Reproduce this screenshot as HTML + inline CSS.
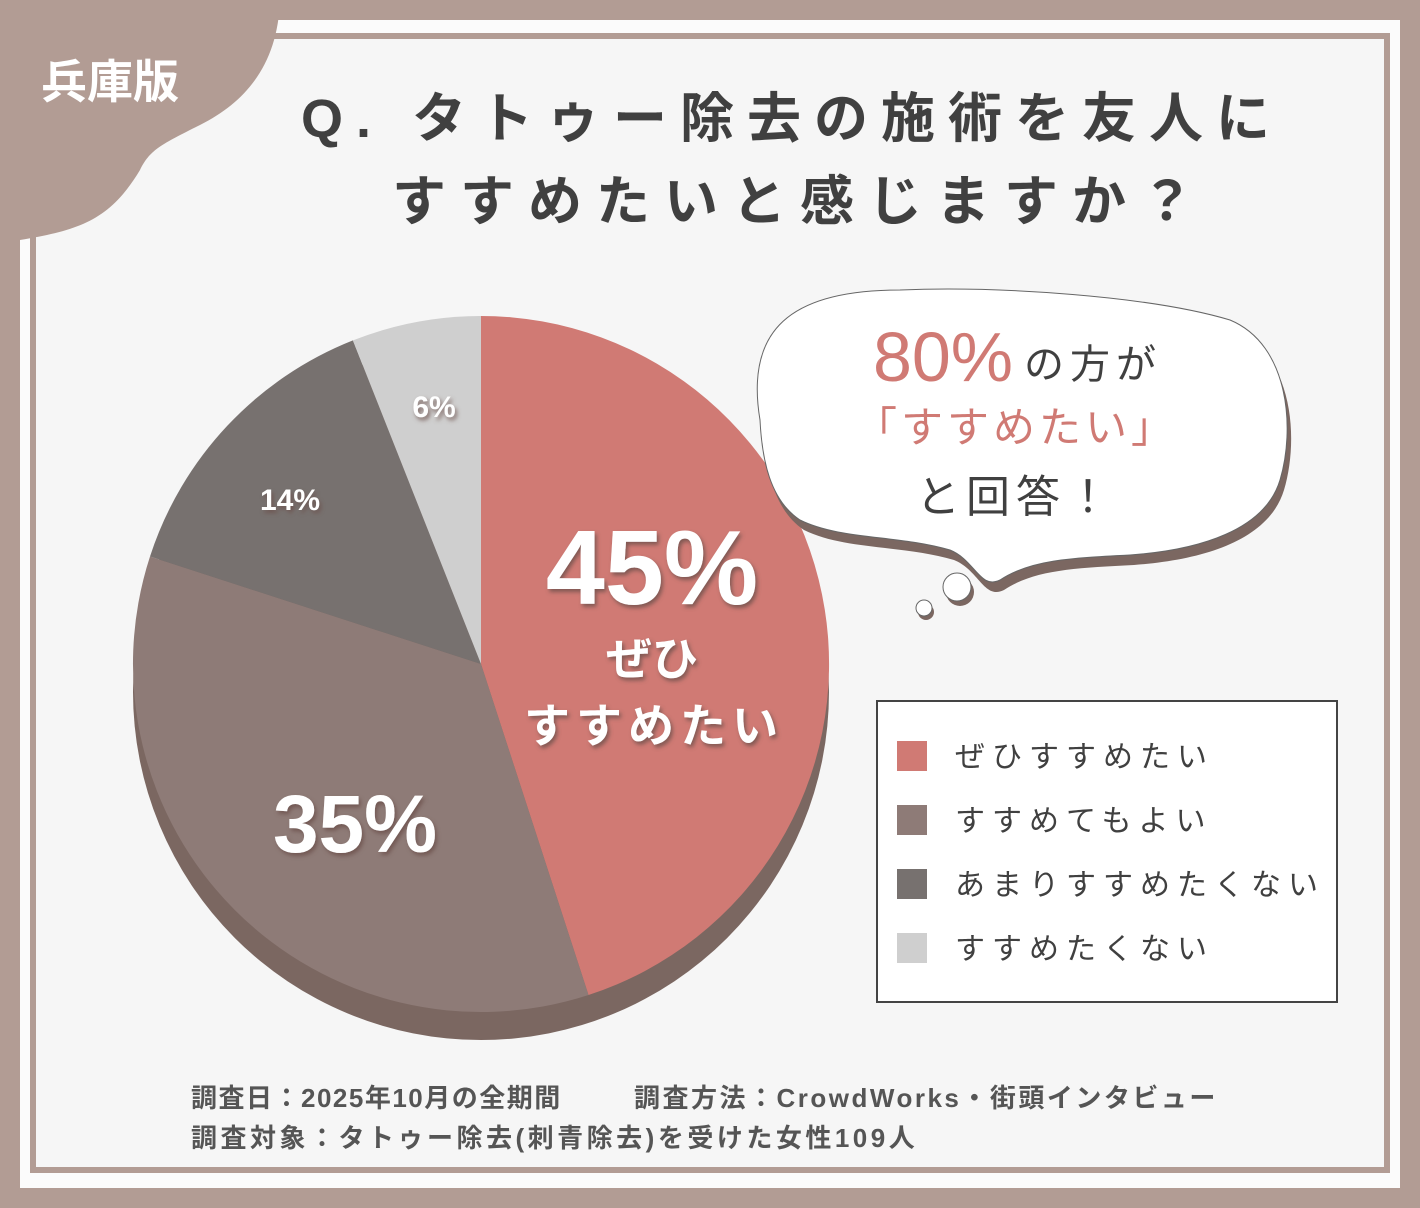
<!DOCTYPE html>
<html><head><meta charset="utf-8"><style>
html,body{margin:0;padding:0;}
body{width:1420px;height:1208px;background:#b29c94;position:relative;overflow:hidden;font-family:"Liberation Sans","Noto Sans CJK JP",sans-serif;}
svg{position:absolute;left:0;top:0;}
</style></head><body>
<svg width="1420" height="1208" viewBox="0 0 1420 1208" font-family="'Liberation Sans','Noto Sans CJK JP',sans-serif">
<defs>
<filter id="ts" x="-20%" y="-20%" width="140%" height="140%"><feDropShadow dx="2" dy="3" stdDeviation="2" flood-color="#6b4f4a" flood-opacity="0.8"/></filter>
</defs>
<rect x="20" y="20" width="1380" height="1168" fill="#fbfbfb"/>
<rect x="33" y="36" width="1354" height="1134" fill="#f6f6f6" stroke="#b29c94" stroke-width="6"/>
<path d="M0 0 H280 C278 60 250 100 200 125 C160 145 150 150 140 170 C110 220 80 230 20 240 L0 242 Z" fill="#b29c94"/>
<text x="110" y="98" font-size="46" font-weight="bold" fill="#fff" text-anchor="middle">兵庫版</text>
<text x="792" y="137" font-size="54" font-weight="bold" fill="#404040" text-anchor="middle" letter-spacing="13">Q. タトゥー除去の施術を友人に</text>
<text x="800" y="220" font-size="54" font-weight="bold" fill="#404040" text-anchor="middle" letter-spacing="14">すすめたいと感じますか？</text>
<!-- pie -->
<circle cx="481" cy="692" r="348" fill="#7b6761"/>
<path d="M481 664 L481 316 A348 348 0 0 1 588.5 995 Z" fill="#d07a74"/>
<path d="M481 664 L588.5 995 A348 348 0 0 1 150 556.5 Z" fill="#8e7b77"/>
<path d="M481 664 L150 556.5 A348 348 0 0 1 352.9 340.4 Z" fill="#77716f"/>
<path d="M481 664 L352.9 340.4 A348 348 0 0 1 481 316 Z" fill="#cfcfcf"/>
<g fill="#fff" font-weight="bold" filter="url(#ts)" text-anchor="middle">
<text x="652" y="604" font-size="106">45%</text>
<text x="652" y="675" font-size="46">ぜひ</text>
<text x="654" y="742" font-size="46" letter-spacing="6">すすめたい</text>
<text x="355" y="852" font-size="82">35%</text>
<text x="290" y="510" font-size="30">14%</text>
<text x="434" y="417" font-size="30">6%</text>
</g>
<!-- bubble -->
<g>
<path d="M760 420 C745 330 790 290 900 290 C1000 286 1150 296 1230 320 C1290 345 1295 430 1280 480 C1265 530 1200 550 1130 555 C1070 558 1030 560 1000 580 C980 590 975 560 950 550 C900 535 840 540 800 520 C770 500 762 460 760 420 Z" fill="#7b6761" transform="translate(4,10)"/>
<path d="M760 420 C745 330 790 290 900 290 C1000 286 1150 296 1230 320 C1290 345 1295 430 1280 480 C1265 530 1200 550 1130 555 C1070 558 1030 560 1000 580 C980 590 975 560 950 550 C900 535 840 540 800 520 C770 500 762 460 760 420 Z" fill="#fff" stroke="#666" stroke-width="1"/>
<circle cx="960" cy="592" r="14" fill="#7b6761"/><circle cx="957" cy="587" r="14" fill="#fff" stroke="#666"/>
<circle cx="926" cy="612" r="8" fill="#7b6761"/><circle cx="924" cy="608" r="8" fill="#fff" stroke="#666"/>
<text x="943" y="381" font-size="70" fill="#d07a74" text-anchor="middle">80%</text>
<text x="1093" y="378" font-size="40" fill="#404040" text-anchor="middle" letter-spacing="6">の方が</text>
<text x="1016" y="442" font-size="42" fill="#d07a74" text-anchor="middle" letter-spacing="4">「すすめたい」</text>
<text x="1016" y="512" font-size="44" fill="#404040" text-anchor="middle" letter-spacing="6">と回答！</text>
</g>
<!-- legend -->
<rect x="877" y="701" width="460" height="301" fill="#fff" stroke="#444" stroke-width="2"/>
<rect x="897" y="741" width="30" height="30" fill="#d07a74"/>
<rect x="897" y="805" width="30" height="30" fill="#8e7b77"/>
<rect x="897" y="869" width="30" height="30" fill="#77716f"/>
<rect x="897" y="933" width="30" height="30" fill="#cfcfcf"/>
<g font-size="30" fill="#404040" letter-spacing="7">
<text x="955" y="767">ぜひすすめたい</text>
<text x="955" y="831">すすめてもよい</text>
<text x="955" y="895">あまりすすめたくない</text>
<text x="955" y="959">すすめたくない</text>
</g>
<g font-size="26" font-weight="bold" fill="#555">
<text x="191" y="1107" letter-spacing="1.5">調査日：2025年10月の全期間</text>
<text x="634" y="1107" letter-spacing="2.5">調査方法：CrowdWorks・街頭インタビュー</text>
<text x="191" y="1147" letter-spacing="3.5">調査対象：タトゥー除去(刺青除去)を受けた女性109人</text>
</g>
</svg>
</body></html>
